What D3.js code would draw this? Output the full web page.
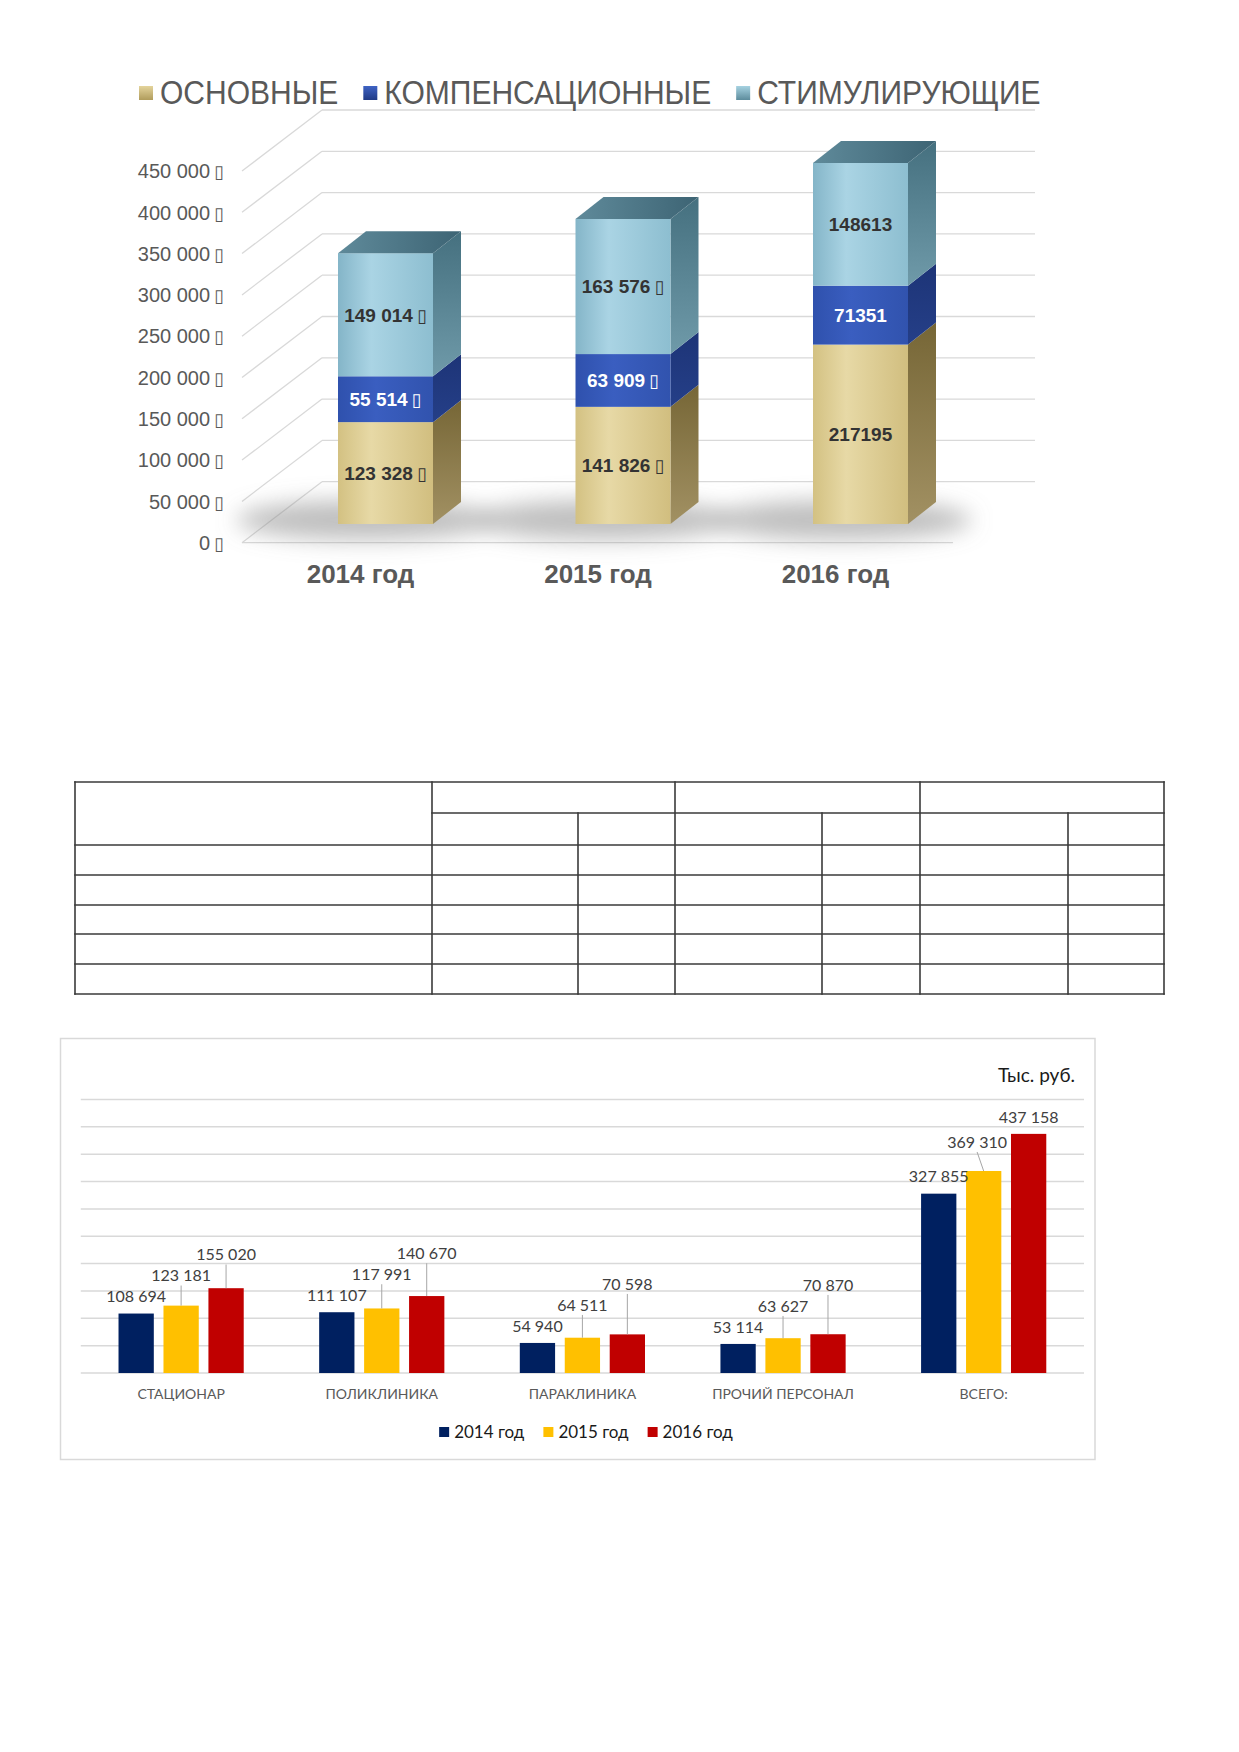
<!DOCTYPE html>
<html><head><meta charset="utf-8">
<script src="https://cdn.jsdelivr.net/npm/d3@7"></script>
<style>body{margin:0;background:#fff} svg{display:block}</style></head>
<body>
<svg id="c" width="1239" height="1752"></svg>
<script>
// ---------- DATA: chart 1 ----------
const years = ["2014 год", "2015 год", "2016 год"];
const seriesNames = ["ОСНОВНЫЕ", "КОМПЕНСАЦИОННЫЕ", "СТИМУЛИРУЮЩИЕ"];
const osnovnye = [123328, 141826, 217195];
const kompens  = [55514, 63909, 71351];
const stimul   = [149014, 163576, 148613];
const labelWithUnit = [true, true, false];
const yTicks1 = [0, 50000, 100000, 150000, 200000, 250000, 300000, 350000, 400000, 450000];

// ---------- DATA: chart 2 ----------
const categories = ["СТАЦИОНАР", "ПОЛИКЛИНИКА", "ПАРАКЛИНИКА", "ПРОЧИЙ ПЕРСОНАЛ", "ВСЕГО:"];
const years2 = ["2014 год", "2015 год", "2016 год"];
const v2014 = [108694, 111107, 54940, 53114, 327855];
const v2015 = [123181, 117991, 64511, 63627, 369310];
const v2016 = [155020, 140670, 70598, 70870, 437158];
const yTicks2 = [0, 50000, 100000, 150000, 200000, 250000, 300000, 350000, 400000, 450000, 500000];
const unitLabel = "Тыс. руб.";

const BOX = "\u25AF";
const loc = d3.formatLocale({decimal: ",", thousands: "\u00a0", grouping: [3], currency: ["", ""]});
const fmtSp = loc.format(",d");
const loc1 = d3.formatLocale({decimal: ",", thousands: " ", grouping: [3], currency: ["", ""]});
const fmt1 = loc1.format(",d");

const svg = d3.select("#c");
const defs = svg.append("defs");

function lin(id, dir, stops) {
  const g = defs.append("linearGradient").attr("id", id)
    .attr("x1", 0).attr("y1", 0).attr("x2", dir === "x" ? 1 : 0).attr("y2", dir === "y" ? 1 : 0);
  stops.forEach(s => g.append("stop").attr("offset", s[0]).attr("stop-color", s[1]));
}
lin("tanFront", "x", [[0, "#d3c182"], [0.35, "#e7d9a6"], [1, "#d1be7f"]]);
lin("tanSide", "y", [[0, "#766636"], [1, "#a29163"]]);
lin("blueFront", "x", [[0, "#2f51ad"], [0.4, "#3a5ec0"], [1, "#3153ae"]]);
lin("blueSide", "y", [[0, "#1d3477"], [1, "#253f88"]]);
lin("cyanFront", "x", [[0, "#84b5c8"], [0.35, "#aad4e4"], [1, "#8dbed0"]]);
lin("cyanSide", "y", [[0, "#45707f"], [1, "#6f9aa9"]]);
lin("cyanTop", "x", [[0, "#5f8a9a"], [1, "#3d6474"]]);
lin("legTan", "y", [[0, "#e4d49c"], [1, "#b09c5c"]]);
lin("legBlue", "y", [[0, "#3f63c4"], [1, "#1f3a86"]]);
lin("legCyan", "y", [[0, "#a6d2e1"], [1, "#5d8c9c"]]);
const blur = defs.append("filter").attr("id", "blur").attr("x", "-50%").attr("y", "-200%").attr("width", "200%").attr("height", "500%");
blur.append("feGaussianBlur").attr("stdDeviation", 11);

const fronts = ["url(#tanFront)", "url(#blueFront)", "url(#cyanFront)"];
const sides = ["url(#tanSide)", "url(#blueSide)", "url(#cyanSide)"];
const legFills = ["url(#legTan)", "url(#legBlue)", "url(#legCyan)"];
const labelColors = ["#333333", "#ffffff", "#333333"];

// ---------- CHART 1 ----------
const g1 = svg.append("g").attr("font-family", "'Liberation Sans', Arial, sans-serif");
const x = d3.scaleBand().domain(years).range([266.75, 979.25]).paddingInner(0.6).paddingOuter(0.3);
const y = d3.scaleLinear().domain([0, 500000]).range([524, 111]);
const yWall = d3.scaleLinear().domain([0, 500000]).range([542.7, 129.7]);
const wallDx = 80, wallDy = -61, wallLeft = 242, wallRight = 1035, floorRight = 953;
const dx = 28, dy = -22;

// walls / grid
g1.append("g").selectAll("line.back").data(yTicks1).join("line")
  .attr("x1", wallLeft + wallDx).attr("x2", wallRight)
  .attr("y1", d => yWall(d) + wallDy).attr("y2", d => yWall(d) + wallDy)
  .attr("stroke", "#d9d9d9").attr("stroke-width", 1.3);
g1.append("g").selectAll("line.side").data(yTicks1).join("line")
  .attr("x1", wallLeft).attr("x2", wallLeft + wallDx)
  .attr("y1", d => yWall(d)).attr("y2", d => yWall(d) + wallDy)
  .attr("stroke", "#d9d9d9").attr("stroke-width", 1.3);
g1.append("line").attr("x1", wallLeft).attr("x2", floorRight)
  .attr("y1", yWall(0)).attr("y2", yWall(0)).attr("stroke", "#d9d9d9").attr("stroke-width", 1.3);

// tick labels
const tk = g1.append("g").selectAll("text").data(yTicks1).join("text")
  .attr("x", 224).attr("y", d => yWall(d) + 7.2).attr("text-anchor", "end")
  .attr("font-size", 20).attr("fill", "#595959")
  .text(d => fmt1(d));
tk.append("tspan").attr("dx", 4).attr("font-size", 18).attr("font-family", "'DejaVu Sans'").text(BOX);

// shadows
g1.append("g").attr("filter", "url(#blur)").selectAll("ellipse").data(years).join("ellipse")
  .attr("cx", d => x(d) + x.bandwidth() * 0.3).attr("cy", y(0) - 4)
  .attr("rx", 130).attr("ry", 20).attr("fill", "#8a8a8a").attr("opacity", 0.55);

// bars
const stacks = years.map((yr, i) => {
  const vals = [osnovnye[i], kompens[i], stimul[i]];
  let acc = 0;
  return vals.map((v, s) => { const seg = {yr, s, v, y0: acc, y1: acc + v, unit: labelWithUnit[i]}; acc += v; return seg; });
});
const w = x.bandwidth();
const barG = g1.append("g");
stacks.forEach(segs => {
  const bg = barG.append("g");
  segs.forEach(sg => {
    const x0 = x(sg.yr), yb = y(sg.y0), yt = y(sg.y1);
    bg.append("path").attr("fill", sides[sg.s])
      .attr("d", `M${x0 + w},${yb}L${x0 + w + dx},${yb + dy}L${x0 + w + dx},${yt + dy}L${x0 + w},${yt}Z`);
    bg.append("rect").attr("x", x0).attr("y", yt).attr("width", w).attr("height", yb - yt).attr("fill", fronts[sg.s]);
  });
  const top = segs[segs.length - 1];
  const x0 = x(top.yr), yt = y(top.y1);
  bg.append("path").attr("fill", "url(#cyanTop)")
    .attr("d", `M${x0},${yt}L${x0 + w},${yt}L${x0 + w + dx},${yt + dy}L${x0 + dx},${yt + dy}Z`);
  segs.forEach(sg => {
    const t = bg.append("text").attr("x", x(sg.yr) + w / 2).attr("y", (y(sg.y0) + y(sg.y1)) / 2 + 6.8)
      .attr("text-anchor", "middle").attr("font-size", 19).attr("font-weight", "bold")
      .attr("fill", labelColors[sg.s])
      .text(sg.unit ? fmt1(sg.v) : String(sg.v));
    if (sg.unit) t.append("tspan").attr("dx", 4).attr("font-size", 18).attr("font-weight", "normal")
      .attr("font-family", "'DejaVu Sans'").text(BOX);
  });
});

// category labels
g1.append("g").selectAll("text").data(years).join("text")
  .attr("x", d => x(d) + w / 2 - 25).attr("y", 583).attr("text-anchor", "middle")
  .attr("font-size", 26).attr("font-weight", "bold").attr("fill", "#595959").text(d => d);

// legend
const leg1 = g1.append("g");
const sx = 0.91;
let lx = 139;
seriesNames.forEach((n, i) => {
  leg1.append("rect").attr("x", lx).attr("y", 86).attr("width", 14).attr("height", 14).attr("fill", legFills[i]);
  const t = leg1.append("text").attr("transform", `translate(${lx + 21},104.3) scale(${sx},1)`)
    .attr("font-size", 33).attr("fill", "#595959").text(n);
  lx += 21 + t.node().getComputedTextLength() * sx + 25;
});

// ---------- TABLE (empty) ----------
const colEdges = [75, 432, 578, 675, 822, 920, 1068, 1164];
const rowEdges = [782, 813, 845, 875, 905, 934, 964, 994];
const segs = [];
rowEdges.forEach((ry, i) => {
  if (i === 1) segs.push([colEdges[1], ry, colEdges[7], ry]);
  else segs.push([colEdges[0], ry, colEdges[7], ry]);
});
colEdges.forEach((cx, j) => {
  const partial = (j === 2 || j === 4 || j === 6);
  segs.push([cx, partial ? rowEdges[1] : rowEdges[0], cx, rowEdges[7]]);
});
svg.append("g").selectAll("line").data(segs).join("line")
  .attr("x1", d => d[0]).attr("y1", d => d[1]).attr("x2", d => d[2]).attr("y2", d => d[3])
  .attr("stroke", "#3a3a3a").attr("stroke-width", 1.6).attr("stroke-linecap", "square");

// ---------- CHART 2 ----------
const g2 = svg.append("g").attr("font-family", "Lato, 'Open Sans', sans-serif");
g2.append("rect").attr("x", 60.5).attr("y", 1038.5).attr("width", 1034.5).attr("height", 421)
  .attr("fill", "#fff").attr("stroke", "#d9d9d9").attr("stroke-width", 1.5);
const series2 = [v2014, v2015, v2016];
const colors2 = ["#002060", "#FFC000", "#C00000"];
const x0s = d3.scaleBand().domain(categories).range([80.8, 1084]).paddingInner(0.376).paddingOuter(0.188);
const x1s = d3.scaleBand().domain(years2).range([0, x0s.bandwidth()]).paddingInner(0.215);
const y2 = d3.scaleLinear().domain([0, 500000]).range([1373, 1099.5]);

g2.append("g").selectAll("line").data(yTicks2).join("line")
  .attr("x1", 80.8).attr("x2", 1084).attr("y1", d => y2(d)).attr("y2", d => y2(d))
  .attr("stroke", "#d9d9d9").attr("stroke-width", 1.5);

const flat = [];
categories.forEach((c, ci) => years2.forEach((yr, si) => flat.push({c, yr, si, v: series2[si][ci]})));
g2.append("g").selectAll("rect").data(flat).join("rect")
  .attr("x", d => x0s(d.c) + x1s(d.yr)).attr("width", x1s.bandwidth())
  .attr("y", d => y2(d.v)).attr("height", d => y2(0) - y2(d.v))
  .attr("fill", d => colors2[d.si]);

// data labels with leader lines
const lblG = g2.append("g");
categories.forEach((c, ci) => {
  let prev = null;
  years2.forEach((yr, si) => {
    const v = series2[si][ci];
    const cx = x0s(c) + x1s(yr) + x1s.bandwidth() / 2;
    const top = y2(v);
    let ly = top - 17, moved = false;
    if (prev !== null && ly > prev - 21) { ly = prev - 21; moved = true; }
    const t = lblG.append("text").attr("x", cx).attr("y", ly + 5.8).attr("text-anchor", "middle")
      .attr("font-size", 16).attr("fill", "#404040").text(fmtSp(v));
    let lx2 = cx;
    if (si > 0 && si < years2.length - 1) {
      const half = t.node().getComputedTextLength() / 2;
      const nextLeft = x0s(c) + x1s(years2[si + 1]);
      const nextTop = y2(series2[si + 1][ci]);
      if (cx + half > nextLeft - 3 && ly + 6 > nextTop) {
        lx2 = nextLeft - 4 - half;
        ly -= 12; moved = true;
        t.attr("x", lx2).attr("y", ly + 5.8);
      }
    }
    prev = ly;
    if (moved) lblG.insert("line", "text").attr("x1", lx2).attr("x2", cx).attr("y1", ly + 10).attr("y2", top)
      .attr("stroke", "#a6a6a6").attr("stroke-width", 1);
  });
});

// category labels
g2.append("g").selectAll("text").data(categories).join("text")
  .attr("x", d => x0s(d) + x0s.bandwidth() / 2).attr("y", 1399).attr("text-anchor", "middle")
  .attr("font-size", 14).attr("fill", "#595959").text(d => d);

// unit label
g2.append("text").attr("x", 1075).attr("y", 1082).attr("text-anchor", "end")
  .attr("font-size", 19).attr("fill", "#1a1a1a").text(unitLabel);

// legend
const leg2 = g2.append("g");
let l2 = 0;
years2.forEach((yr, i) => {
  const it = leg2.append("g").attr("transform", `translate(${l2},0)`);
  it.append("rect").attr("x", 0).attr("y", -5).attr("width", 10).attr("height", 10).attr("fill", colors2[i]);
  const t = it.append("text").attr("x", 15).attr("y", 6).attr("font-size", 17).attr("fill", "#1a1a1a").text(yr);
  l2 += 15 + t.node().getComputedTextLength() + 19;
});
const legW = l2 - 19;
leg2.attr("transform", `translate(${586 - legW / 2},1432)`);
</script>
</body></html>
